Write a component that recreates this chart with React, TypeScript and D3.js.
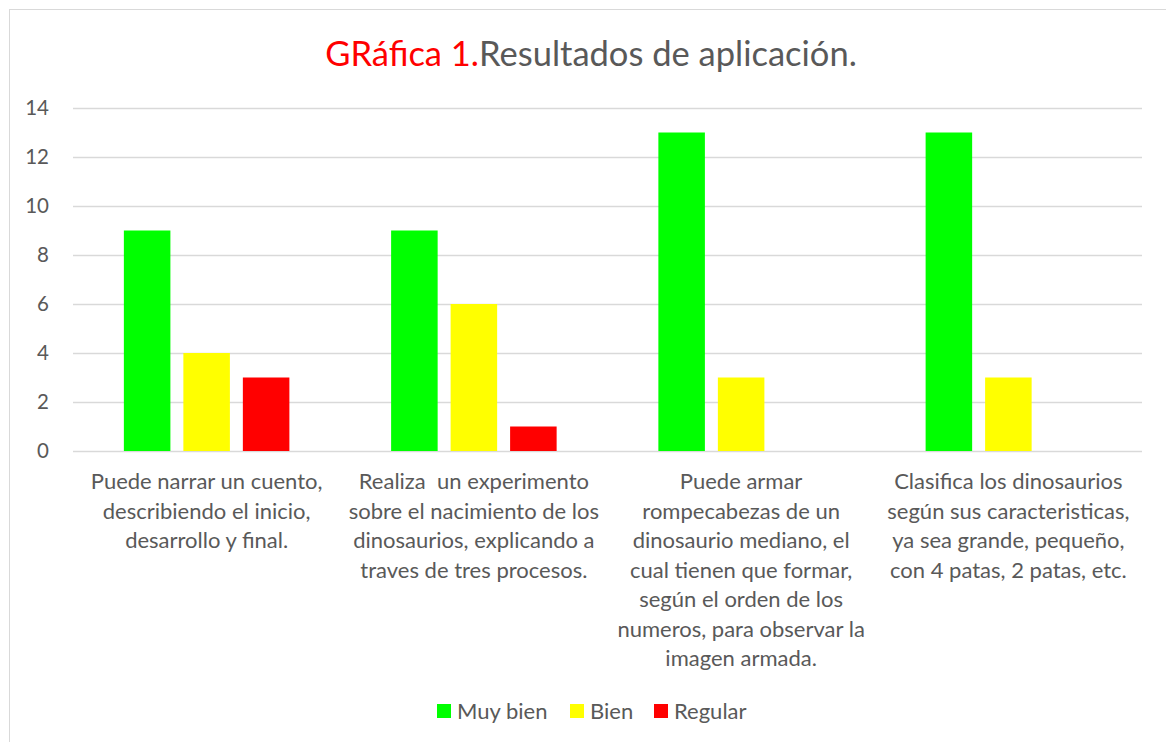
import React, { useEffect, useRef } from "react";
import * as d3 from "d3";

const categories = [
  ["Puede narrar un cuento,", "describiendo el inicio,", "desarrollo y final."],
  ["Realiza  un experimento", "sobre el nacimiento de los", "dinosaurios, explicando a", "traves de tres procesos."],
  ["Puede armar", "rompecabezas de un", "dinosaurio mediano, el", "cual tienen que formar,", "según el orden de los", "numeros, para observar la", "imagen armada."],
  ["Clasifica los dinosaurios", "según sus caracteristicas,", "ya sea grande, pequeño,", "con 4 patas, 2 patas, etc."],
];
const seriesNames = ["Muy bien", "Bien", "Regular"];
const seriesColors = ["#00ff00", "#ffff00", "#ff0000"];
const muyBien = [9, 9, 13, 13];
const bien = [4, 6, 3, 3];
const regular = [3, 1, 0, 0];
const yTicks = [0, 2, 4, 6, 8, 10, 12, 14];

const W = 1166;
const H = 742;
const FONT = "Lato, 'Noto Sans', sans-serif";
const TXT = "#595959";

function App() {
  const ref = useRef<SVGSVGElement>(null);

  useEffect(() => {
    const svg = d3.select(ref.current);
    svg.selectAll("*").remove();

    const values = [muyBien, bien, regular];
    const rows = categories.map((c, i) => ({
      i,
      lines: c,
      vals: values.map((s) => s[i]),
    }));

    // chart border
    svg.append("rect")
      .attr("x", 9.5).attr("y", 9.5)
      .attr("width", W).attr("height", H)
      .attr("fill", "#fff").attr("stroke", "#d9d9d9");

    const left = 73, right = 1142, top = 108, bottom = 451;
    const x0 = d3.scaleBand<number>().domain(rows.map((d) => d.i)).range([left, right]).padding(0);
    const x1 = d3.scaleBand<number>().domain([0, 1, 2]).range([0, x0.bandwidth()])
      .paddingInner(0.218).paddingOuter(0.855);
    const y = d3.scaleLinear().domain([0, 14]).range([bottom, top]);

    // gridlines
    svg.append("g").selectAll("line").data(yTicks).join("line")
      .attr("x1", left).attr("x2", right)
      .attr("y1", (d) => Math.round(y(d)) + 0.5).attr("y2", (d) => Math.round(y(d)) + 0.5)
      .attr("stroke", "#d9d9d9").attr("stroke-width", 1.3);

    // y tick labels
    svg.append("g").selectAll("text").data(yTicks).join("text")
      .attr("x", 49).attr("y", (d) => y(d))
      .attr("dy", "0.35em").attr("text-anchor", "end")
      .attr("font-family", FONT).attr("font-size", 20.5).attr("fill", TXT)
      .text((d) => d);

    // bars
    const groups = svg.append("g").selectAll("g").data(rows).join("g")
      .attr("transform", (d) => `translate(${x0(d.i)},0)`);
    groups.selectAll("rect").data((d) => d.vals.map((v, k) => ({ v, k }))).join("rect")
      .attr("x", (d) => x1(d.k)!)
      .attr("width", x1.bandwidth())
      .attr("y", (d) => y(d.v))
      .attr("height", (d) => y(0) - y(d.v))
      .attr("fill", (d) => seriesColors[d.k]);

    // category labels
    const labels = svg.append("g").selectAll("text").data(rows).join("text")
      .attr("text-anchor", "middle")
      .attr("font-family", FONT).attr("font-size", 22).attr("fill", TXT);
    labels.selectAll("tspan").data((d) => d.lines.map((l) => ({ l, cx: x0(d.i)! + x0.bandwidth() / 2 }))).join("tspan")
      .attr("x", (d) => d.cx)
      .attr("y", (d, j) => 489 + j * 29.5)
      .attr("xml:space", "preserve")
      .text((d) => d.l);

    // title
    const title = svg.append("text")
      .attr("x", 591).attr("y", 66)
      .attr("text-anchor", "middle")
      .attr("font-family", FONT).attr("font-size", 34.5);
    title.append("tspan").attr("fill", "#ff0000").text("GRáfica 1.");
    title.append("tspan").attr("fill", TXT).text("Resultados de aplicación.");

    // legend
    const legendX = [437, 570, 654];
    const lg = svg.append("g").selectAll("g").data(seriesNames).join("g")
      .attr("transform", (d, k) => `translate(${legendX[k]},704)`);
    lg.append("rect").attr("width", 14).attr("height", 14)
      .attr("fill", (d, k) => seriesColors[k]);
    lg.append("text").attr("x", 20).attr("y", 7).attr("dy", "0.35em")
      .attr("font-family", FONT).attr("font-size", 22).attr("fill", TXT)
      .text((d) => d);
  }, []);

  return (
    <div style={{ position: "absolute", left: 0, top: 0, background: "#fff" }}>
      <svg ref={ref} width={W} height={H} style={{ display: "block" }} />
    </div>
  );
}

export default App;
